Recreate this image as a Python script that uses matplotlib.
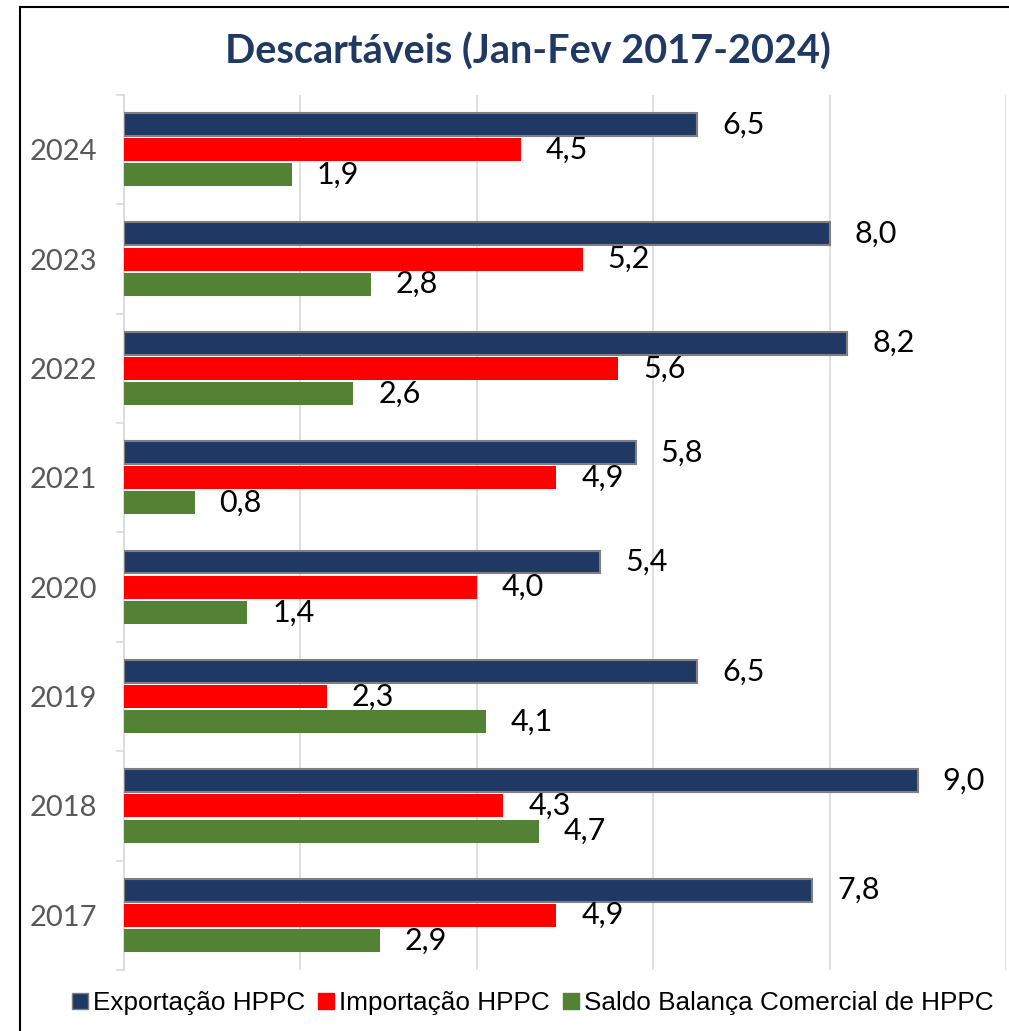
import matplotlib.pyplot as plt
import matplotlib.patches as mpatches
import numpy as np

years = ['2017', '2018', '2019', '2020', '2021', '2022', '2023', '2024']
exportacao = [7.8, 9.0, 6.5, 5.4, 5.8, 8.2, 8.0, 6.5]
importacao = [4.9, 4.3, 2.3, 4.0, 4.9, 5.6, 5.2, 4.5]
saldo = [2.9, 4.7, 4.1, 1.4, 0.8, 2.6, 2.8, 1.9]

series = [
    ('Exportação HPPC', exportacao, '#203864', '#7f7f7f'),
    ('Importação HPPC', importacao, '#ff0000', 'none'),
    ('Saldo Balança Comercial de HPPC', saldo, '#548235', 'none'),
]

fig = plt.figure(figsize=(10.09, 10.31), dpi=100)
ax = fig.add_axes([0.1229, 0.0592, 0.8741, 0.8487])

y = np.arange(len(years))
h = 0.21
step = 0.23
for i, (name, vals, col, edge) in enumerate(series):
    pos = y + (1 - i) * step
    ax.barh(pos, vals, height=h, color=col, edgecolor=edge,
            linewidth=1.5 if edge != 'none' else 0, label=name, zorder=3)
    for p, v in zip(pos, vals):
        ax.annotate(('%.1f' % v).replace('.', ','), (v, p), xytext=(18, 0),
                    textcoords='offset points', va='center', ha='left',
                    fontsize=22, family='Lato', color='black')

ax.set_xlim(0, 10)
ax.set_ylim(-0.5, len(years) - 0.5)
ax.set_xticks([0, 2, 4, 6, 8, 10])
ax.set_xticklabels([])
ax.tick_params(axis='x', length=0)
ax.grid(axis='x', color='#d9d9d9', linewidth=1.2, zorder=0)
ax.set_yticks(y)
ax.set_yticklabels(years, fontsize=21, family='Lato', color='#595959')
ax.set_yticks(np.arange(-0.5, len(years)), minor=True)
ax.tick_params(axis='y', which='major', length=0, pad=19)
ax.tick_params(axis='y', which='minor', length=6, color='#d9d9d9', width=1.2)
for s in ['top', 'right', 'bottom']:
    ax.spines[s].set_visible(False)
ax.spines['left'].set_color('#d9d9d9')
ax.spines['left'].set_linewidth(1.2)

fig.text(0.523, 0.95, 'Descartáveis (Jan-Fev 2017-2024)', ha='center', va='center',
         fontsize=28.5, fontweight='bold', family='Lato', color='#203864')

handles = [mpatches.Patch(facecolor=c, edgecolor=e if e != 'none' else c, linewidth=1)
           for _, _, c, e in series]
fig.legend(handles, [s[0] for s in series], loc='center', bbox_to_anchor=(0.528, 0.027),
           ncol=3, frameon=False, prop={'family': 'Liberation Sans', 'size': 18.8},
           handlelength=0.6, handleheight=0.6, handletextpad=0.2, columnspacing=0.5)

border = mpatches.Rectangle((20 / 1009, -0.05), 1.2, 1 - 7 / 1031 + 0.05,
                            transform=fig.transFigure, fill=False, edgecolor='black',
                            linewidth=1.5)
fig.patches.append(border)

fig.savefig('out.png', dpi=100)
